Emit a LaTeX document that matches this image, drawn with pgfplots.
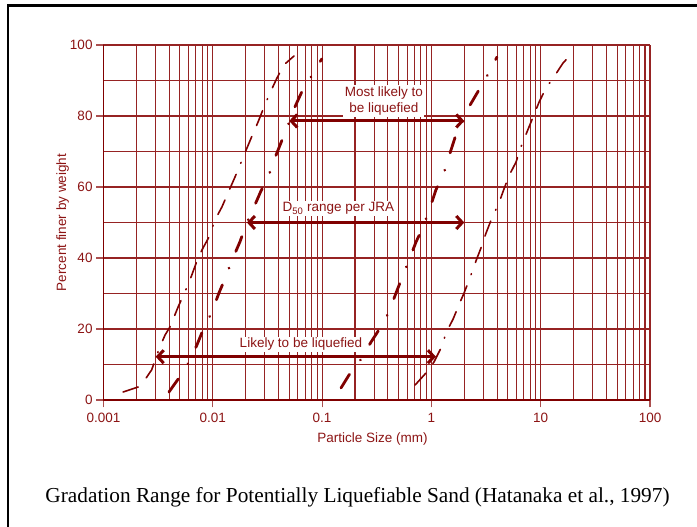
\documentclass[border=0pt]{standalone}
\usepackage{fontspec}
\setmainfont{Liberation Sans}
\newfontfamily\capfont{Liberation Serif}
\usepackage{pgfplots}
\pgfplotsset{compat=1.18}
\usetikzlibrary{arrows.meta}

\definecolor{curvered}{RGB}{128,0,0}
\definecolor{gridred}{RGB}{150,35,35}
\definecolor{textred}{RGB}{140,20,20}

\newcommand{\chartfont}{\fontsize{13.5bp}{16.5bp}\selectfont}

\begin{document}
\begin{tikzpicture}[x=1bp,y=1bp]
\useasboundingbox (0,0) rectangle (697,527);
% slide frame
\draw[black,line width=2.4bp] (8,0) -- (8,521.5) -- (697,521.5);
\begin{axis}[
  at={(103.5bp,127bp)}, anchor=south west,
  scale only axis, width=546.5bp, height=355bp,
  xmode=log, xmin=0.001, xmax=100, ymin=0, ymax=100,
  xtick={0.001,0.01,0.1,1,10,100},
  xticklabels={0.001,0.01,0.1,1,10,100},
  minor xtick={0.002,0.003,0.004,0.005,0.006,0.007,0.008,0.009,
    0.02,0.03,0.04,0.05,0.06,0.07,0.08,0.09,
    0.2,0.3,0.4,0.5,0.6,0.7,0.8,0.9,
    2,3,4,5,6,7,8,9,20,30,40,50,60,70,80,90},
  ytick={0,20,40,60,80,100},
  yticklabels={0,20,40,60,80,100},
  minor ytick={10,30,50,70,90},
  grid=both,
  major grid style={gridred,line width=1.1bp},
  minor grid style={gridred,line width=1.1bp},
  axis x line*=bottom, axis y line*=left,
  x axis line style={curvered,line width=2.2bp},
  y axis line style={curvered,line width=1.5bp},
  tick align=outside,
  major tick length=7.5bp, minor tick length=0pt,
  tick style={gridred!80,line width=1.1bp},
  tick label style={font=\chartfont,text=textred},
  xticklabel style={yshift=-2bp},
  xlabel={Particle Size (mm)},
  xlabel style={font=\chartfont,text=textred,at={(rel axis cs:0.4922,0)},anchor=base,yshift=-43bp},
  ylabel={Percent finer by weight},
  ylabel style={font=\chartfont,text=textred,at={(rel axis cs:-0.075,0.5)},anchor=center},
]
% outer fine boundary
\addplot[curvered,line width=1.6bp,line cap=round,
  dash pattern=on 16bp off 12bp on 16bp off 12bp on 1bp off 12bp] coordinates {
  (0.00151,2.25) (0.00207,3.66) (0.00248,6.4) (0.00276,8.5) (0.00324,14.6)
  (0.00366,18.3) (0.00406,20.6) (0.00483,26.3) (0.00557,30.5) (0.00632,34.6)
  (0.00733,40.0) (0.00813,42.8) (0.00923,45.9) (0.01047,50.7) (0.01213,54.4)
  (0.01377,58.3) (0.01596,62.8) (0.01774,66.2) (0.02056,71.0) (0.02286,74.4)
  (0.02594,78.3) (0.02939,82.5) (0.03336,86.5) (0.03866,90.7) (0.04477,94.4)
  (0.05534,96.9)};
% inner fine boundary
\addplot[curvered,line width=2.8bp,line cap=round,
  dash pattern=on 16bp off 18bp on 0.1bp off 18bp] coordinates {
  (0.00397,2.25) (0.00490,6.2) (0.00606,10.7) (0.00716,15.5) (0.00813,19.7)
  (0.00982,24.8) (0.01137,30.1) (0.01290,34.1) (0.0150,39.4) (0.01774,44.6)
  (0.0204,49.8) (0.0234,53.8) (0.0276,58.9) (0.0321,62.8) (0.0370,68.2)
  (0.0430,73.2) (0.0489,77.5) (0.0563,82.5) (0.0670,87.6) (0.0810,91.5)
  (0.0995,96.1)};
% inner coarse boundary
\addplot[curvered,line width=2.8bp,line cap=round,
  dash pattern=on 16bp off 18bp on 0.1bp off 18bp] coordinates {
  (0.149,3.4) (0.176,7.0) (0.227,11.5) (0.280,16.3) (0.340,20.3) (0.409,24.8)
  (0.474,30.1) (0.538,34.4) (0.624,39.4) (0.723,44.5) (0.838,48.7) (0.971,54.1)
  (1.10,59.2) (1.30,63.9) (1.45,68.7) (1.64,73.8) (1.91,78.0) (2.26,83.1)
  (2.79,87.9) (3.30,91.8) (3.98,96.6)};
% outer coarse boundary
\addplot[curvered,line width=1.6bp,line cap=round,
  dash pattern=on 16bp off 12bp on 16bp off 12bp on 1bp off 12bp] coordinates {
  (0.708,4.2) (0.892,7.6) (1.056,10.7) (1.25,15.2) (1.36,18.9) (1.58,22.8)
  (1.83,27.6) (1.99,30.1) (2.30,35.2) (2.56,39.2) (2.84,42.8) (3.16,47.0)
  (3.58,51.3) (4.15,55.5) (4.61,59.4) (5.12,63.1) (5.94,67.0) (6.60,71.3)
  (7.49,75.5) (8.51,79.7) (9.66,83.9) (11.2,87.9) (13.2,91.0) (16.0,94.9)
  (19.8,98.0)};
% range arrows
\addplot[curvered,line width=3bp,
  arrows={Straight Barb[length=6bp,width=13bp]-Straight Barb[length=6bp,width=13bp]}]
  coordinates {(0.05,78.6) (2.0,78.6)};
\addplot[curvered,line width=3bp,
  arrows={Straight Barb[length=6bp,width=13bp]-Straight Barb[length=6bp,width=13bp]}]
  coordinates {(0.0205,50.0) (2.0,50.0)};
\addplot[curvered,line width=3bp,
  arrows={Straight Barb[length=6bp,width=13bp]-Straight Barb[length=6bp,width=13bp]}]
  coordinates {(0.003,12.2) (1.1,12.2)};
\node[fill=white,inner sep=1.5bp,align=center,font=\chartfont,text=textred]
  at (axis cs:0.368,84.2) {Most likely to\\be liquefied};
\node[fill=white,inner sep=1.5bp,anchor=base,font=\chartfont,text=textred]
  at (axis cs:0.141,52.96) {D\textsubscript{50} range per JRA};
\node[fill=white,inner sep=1.5bp,anchor=base,font=\chartfont,text=textred]
  at (axis cs:0.064,14.65) {Likely to be liquefied};
\end{axis}
\node[anchor=base,font=\capfont\fontsize{21.3bp}{24bp}\selectfont]
  at (357.5,24) {Gradation Range for Potentially Liquefiable Sand (Hatanaka et al., 1997)};
\end{tikzpicture}
\end{document}
